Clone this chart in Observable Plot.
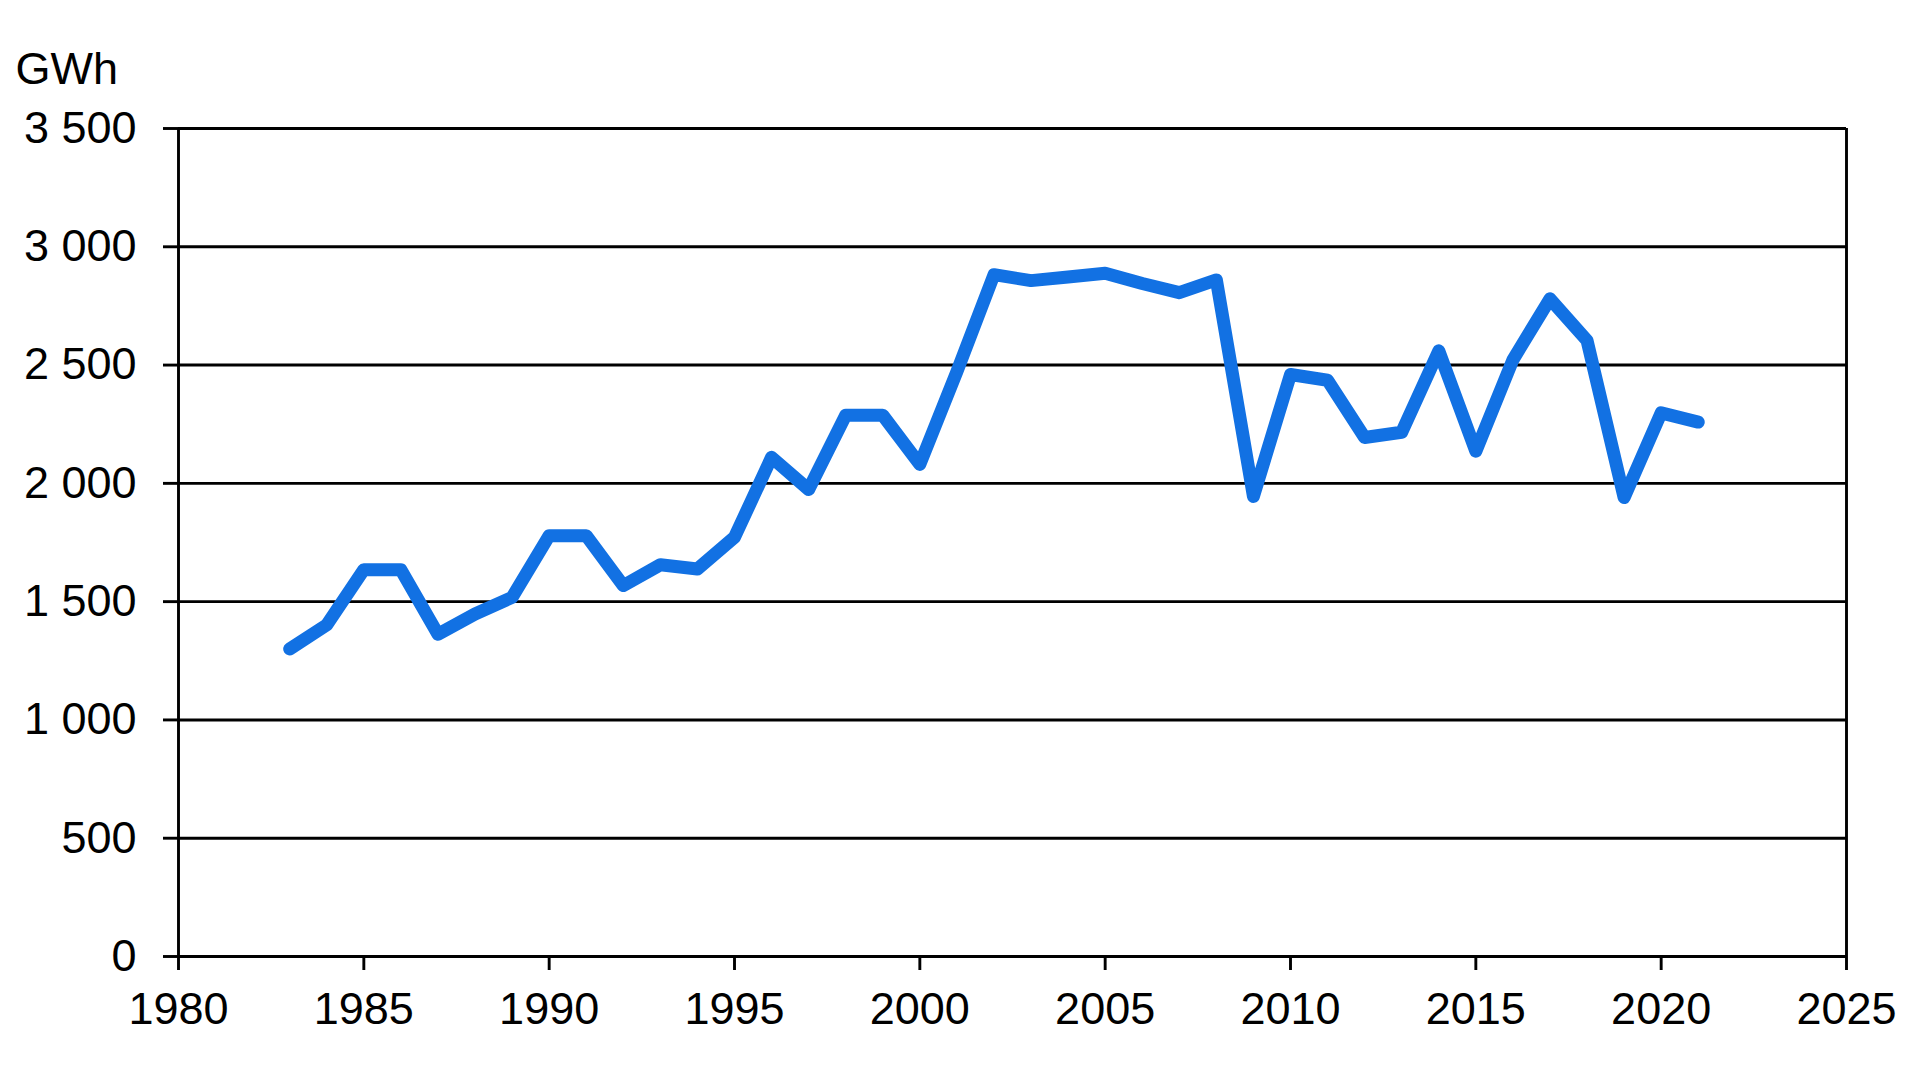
<!DOCTYPE html>
<html>
<head>
<meta charset="utf-8">
<script src="https://cdn.jsdelivr.net/npm/d3@7"></script>
<script src="https://cdn.jsdelivr.net/npm/@observablehq/plot@0.6"></script>
<style>
  html, body { margin: 0; padding: 0; background: #fff; }
  #chart svg { display: block; }
</style>
</head>
<body>
<div id="chart"></div>
<script>
const years = [1983,1984,1985,1986,1987,1988,1989,1990,1991,1992,1993,1994,1995,1996,1997,1998,1999,2000,2001,2002,2003,2004,2005,2006,2007,2008,2009,2010,2011,2012,2013,2014,2015,2016,2017,2018,2019,2020,2021];
const gwh = [1300,1402,1635,1635,1362,1448,1518,1779,1779,1568,1656,1638,1772,2110,1974,2288,2288,2080,2472,2882,2857,2872,2888,2845,2806,2860,1945,2460,2436,2194,2216,2560,2136,2522,2780,2604,1940,2298,2259];
const yTicks = [0,500,1000,1500,2000,2500,3000,3500];
const xTicks = [1980,1985,1990,1995,2000,2005,2010,2015,2020,2025];
const unitLabel = "GWh";

const data = years.map((y, i) => ({year: y, value: gwh[i]}));
const fmt = d => d3.format(",")(d).replace(/,/g, " ");

const chart = Plot.plot({
  width: 1920,
  height: 1078,
  marginLeft: 178,
  marginRight: 74,
  marginTop: 128,
  marginBottom: 122,
  style: {fontFamily: "'Liberation Sans', Arial, sans-serif", fontSize: "45px", color: "#000", background: "#fff"},
  x: {domain: [1980, 2025]},
  y: {domain: [0, 3500]},
  marks: [
    Plot.ruleY(yTicks, {stroke: "#000", strokeWidth: 2.9}),
    Plot.ruleX([1980, 2025], {stroke: "#000", strokeWidth: 2.9}),
    Plot.axisY({ticks: yTicks, tickSize: 15, tickPadding: 27, tickFormat: fmt, label: null, stroke: "#000", strokeWidth: 2.9, strokeOpacity: 1, fill: "#000"}),
    Plot.axisX({ticks: xTicks, tickSize: 14, tickPadding: 22, tickFormat: d => String(d), label: null, stroke: "#000", strokeWidth: 2.9, strokeOpacity: 1, fill: "#000"}),
    Plot.lineY(data, {x: "year", y: "value", stroke: "#1271E3", strokeWidth: 13, strokeLinecap: "round", strokeLinejoin: "round"}),
    Plot.text([unitLabel], {frameAnchor: "top-left", dx: -163, dy: -59, textAnchor: "start", lineAnchor: "middle", fill: "#000", fontSize: 45})
  ]
});
document.getElementById("chart").appendChild(chart);
</script>
</body>
</html>
